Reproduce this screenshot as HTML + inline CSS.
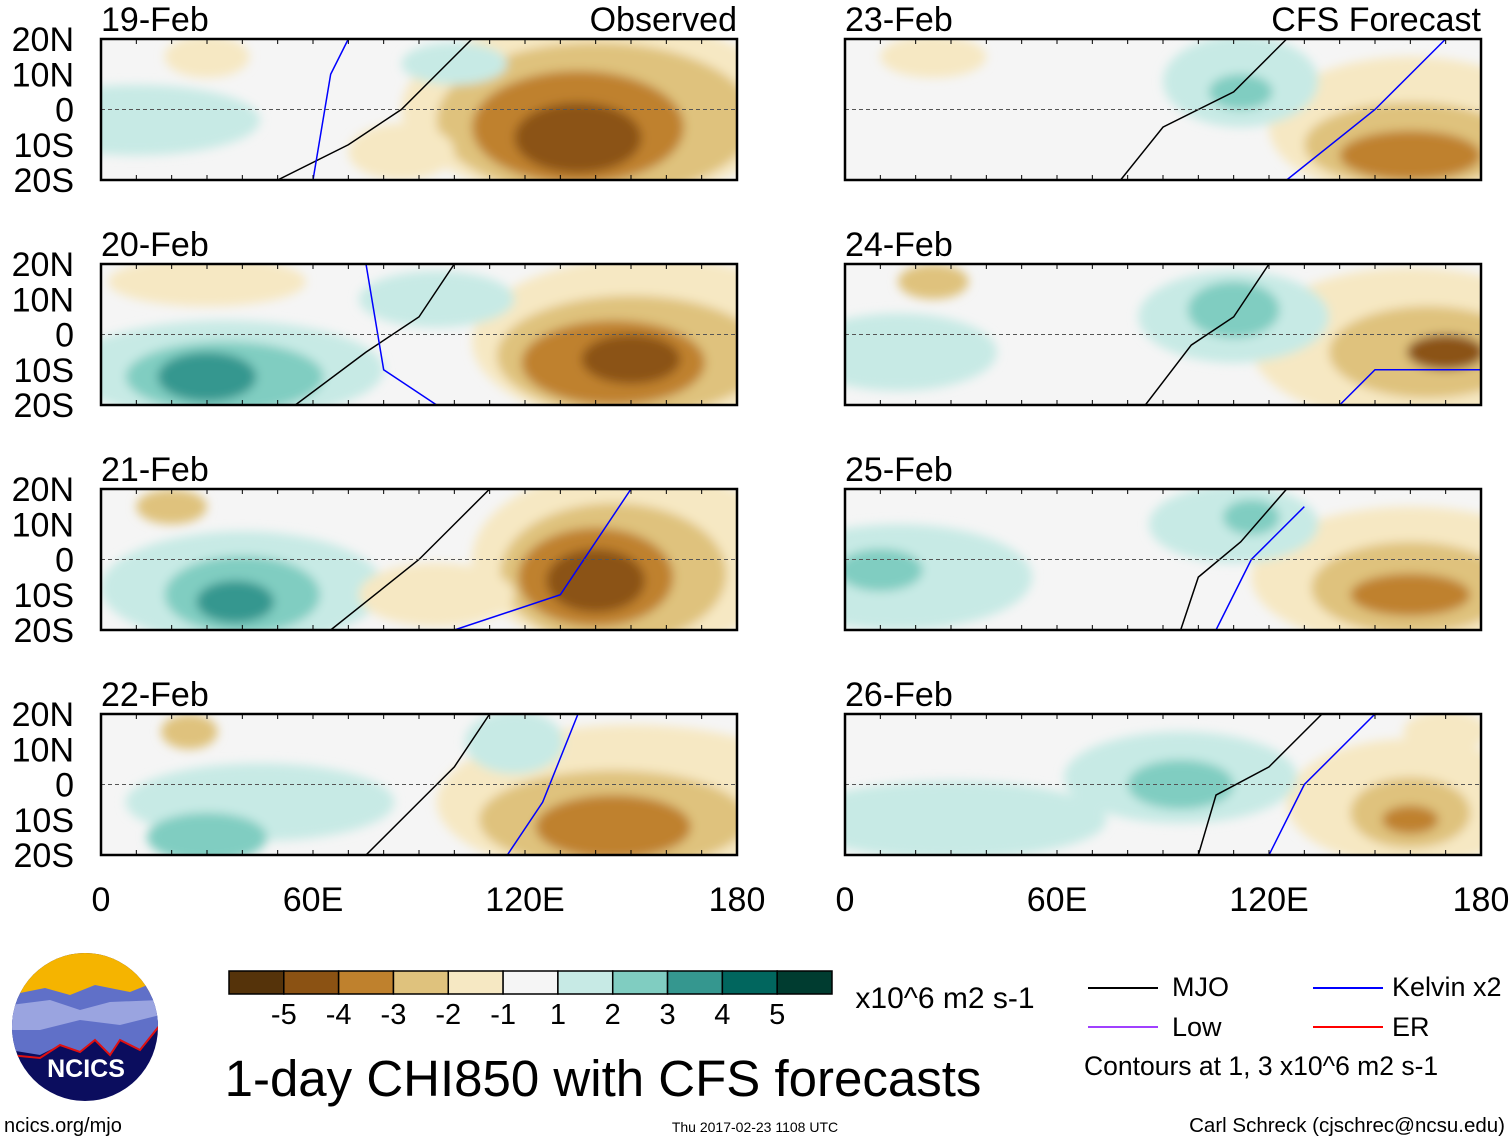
<!DOCTYPE html>
<html><head><meta charset="utf-8">
<style>
body{margin:0;background:#fff;}
svg{display:block;font-family:"Liberation Sans",Arial,sans-serif;}
</style></head>
<body>
<svg id="fig" width="1510" height="1142" viewBox="0 0 1510 1142" xmlns="http://www.w3.org/2000/svg">
<defs>
<filter id="blur" x="-20%" y="-20%" width="140%" height="140%"><feGaussianBlur stdDeviation="5"/></filter>
<clipPath id="sunclip"><ellipse cx="85" cy="1027" rx="73" ry="74"/></clipPath>
</defs>
<g id="panels"></g>
<g id="cbar"></g>
<g clip-path="url(#sunclip)">
<rect x="10" y="950" width="150" height="160" fill="#0b0d5e"/>
<rect x="10" y="950" width="150" height="45" fill="#f5b400"/>
<path d="M10 995 L45 988 L70 995 L95 985 L130 992 L160 980 L160 1025 L140 1050 L120 1040 L110 1055 L95 1040 L80 1052 L60 1045 L40 1055 L10 1050Z" fill="#6070c8"/>
<path d="M10 1005 L50 1000 L80 1010 L110 1002 L160 1000 L160 1015 L120 1025 L80 1020 L40 1030 L10 1030Z" fill="#9aa4e0"/>
<path d="M10 1055 L40 1058 L60 1045 L80 1052 L95 1040 L110 1055 L120 1040 L140 1050 L160 1025" fill="none" stroke="#e01010" stroke-width="2"/>
</g>
<text x="86" y="1077" font-size="25" font-weight="bold" fill="#fff" text-anchor="middle">NCICS</text>
<text x="4" y="1132" font-size="20" fill="#000">ncics.org/mjo</text>
<text x="603" y="1096" font-size="51" fill="#000" text-anchor="middle">1-day CHI850 with CFS forecasts</text>
<text x="755" y="1132" font-size="14" fill="#000" text-anchor="middle">Thu 2017-02-23 1108 UTC</text>
<text x="945" y="1008" font-size="30" fill="#000" text-anchor="middle">x10^6 m2 s-1</text>
<g>
<line x1="1088" y1="988" x2="1158" y2="988" stroke="#000" stroke-width="2"/>
<text x="1172" y="996" font-size="27">MJO</text>
<line x1="1313" y1="988" x2="1383" y2="988" stroke="#0000ff" stroke-width="2"/>
<text x="1392" y="996" font-size="27">Kelvin x2</text>
<line x1="1088" y1="1027" x2="1158" y2="1027" stroke="#a040ff" stroke-width="2"/>
<text x="1172" y="1036" font-size="27">Low</text>
<line x1="1313" y1="1027" x2="1383" y2="1027" stroke="#ff0000" stroke-width="2"/>
<text x="1392" y="1036" font-size="27">ER</text>
<text x="1084" y="1075" font-size="26.5">Contours at 1, 3 x10^6 m2 s-1</text>
</g>
<text x="1505" y="1132" font-size="20.5" text-anchor="end">Carl Schreck (cjschrec@ncsu.edu)</text>
</svg>
<script>
const cbarColors=["#55330a","#8b5213","#bf812d","#dfc27d","#f6e8c3","#f5f5f5","#c7eae5","#80cdc1","#35978f","#01665e","#003c30"];
const cbarLabels=["-5","-4","-3","-2","-1","1","2","3","4","5"];
const panelDates=["19-Feb","20-Feb","21-Feb","22-Feb","23-Feb","24-Feb","25-Feb","26-Feb"];
const latTicks=[20,10,0,-10,-20];
const latLabels=["20N","10N","0","10S","20S"];
const lonTicks=[0,60,120,180];
const lonLabels=["0","60E","120E","180"];
// anomaly blobs per panel: [lon, lat, halfwidth lon, halfheight lat, colour index]
const blobs=[
 [[140,0,55,26,4],[140,-3,45,22,3],[135,-5,30,16,2],[135,-8,18,10,1],[10,-3,35,10,6],[100,13,15,6,6],[30,15,12,6,4],[85,-12,15,8,4]],
 [[155,-2,50,24,4],[150,-6,38,17,3],[145,-8,26,12,2],[150,-7,14,7,1],[35,-10,45,14,6],[35,-12,28,10,7],[30,-12,14,7,8],[30,15,28,7,4],[95,10,22,8,6]],
 [[150,0,45,26,4],[145,-4,32,20,3],[140,-5,22,14,2],[140,-6,14,9,1],[40,-8,40,16,6],[40,-10,22,11,7],[38,-12,11,6,8],[20,15,10,5,3],[95,-10,22,9,4]],
 [[150,-5,55,22,4],[145,-10,38,14,3],[145,-12,22,9,2],[45,-5,38,11,6],[30,-15,17,7,7],[117,12,14,9,6],[25,15,8,5,3]],
 [[160,-5,40,20,4],[160,-10,30,12,3],[160,-13,20,7,2],[112,8,22,13,6],[112,5,9,5,7],[25,15,15,6,4]],
 [[160,-3,45,22,4],[165,-5,28,13,3],[170,-5,11,5,1],[110,5,27,13,6],[110,7,13,8,7],[15,-5,28,11,6],[25,15,10,5,3]],
 [[160,-5,45,20,4],[160,-8,28,13,3],[160,-10,17,6,2],[15,-5,38,15,6],[10,-3,12,6,7],[110,10,24,11,6],[115,12,8,5,7]],
 [[160,-5,35,18,4],[160,-8,17,10,3],[160,-10,8,4,2],[95,2,33,13,6],[95,0,15,7,7],[30,-10,44,11,6],[170,15,12,6,4]]
];
// MJO (black) and Kelvin (blue) contour polylines: [lon,lat] pairs
const mjoLines=[
 [[50,-20],[70,-10],[85,0],[95,10],[105,20]],
 [[55,-20],[75,-5],[90,5],[100,20]],
 [[65,-20],[80,-8],[90,0],[100,10],[110,20]],
 [[75,-20],[90,-5],[100,5],[110,20]],
 [[78,-20],[90,-5],[110,5],[125,20]],
 [[85,-20],[98,-3],[110,5],[120,20]],
 [[95,-20],[100,-5],[112,5],[125,20]],
 [[100,-20],[105,-3],[120,5],[135,20]]
];
const kelvinLines=[
 [[60,-20],[65,10],[70,20]],
 [[95,-20],[80,-10],[75,20]],
 [[100,-20],[130,-10],[150,20]],
 [[115,-20],[125,-5],[135,20]],
 [[125,-20],[150,0],[170,20]],
 [[140,-20],[150,-10],[180,-10]],
 [[105,-20],[115,0],[130,15]],
 [[120,-20],[130,0],[150,20]]
];
const NS="http://www.w3.org/2000/svg";
function mk(t,a,p){const e=document.createElementNS(NS,t);for(const k in a)e.setAttribute(k,a[k]);p.appendChild(e);return e;}
const panelsG=document.getElementById("panels");
const colX=[101,845], rowY=[39,264,489,714], PW=636, PH=141;
panelDates.forEach((d,i)=>{
  const col=Math.floor(i/4), row=i%4;
  const x0=colX[col], y0=rowY[row];
  const xs=lon=>x0+lon/180*PW, ys=lat=>y0+(20-lat)/40*PH;
  const g=mk("g",{},panelsG);
  
  
  const cp=mk("clipPath",{id:"cp"+i},g);
  mk("rect",{x:x0,y:y0,width:PW,height:PH},cp);
  mk("rect",{x:x0,y:y0,width:PW,height:PH,fill:"#f5f5f5"},g);
  const sg=mk("g",{"clip-path":"url(#cp"+i+")"},g);
  const fg=mk("g",{filter:"url(#blur)"},sg);
  blobs[i].forEach(b=>{
    const e=mk("ellipse",{cx:xs(b[0]),cy:ys(b[1]),rx:b[2]/180*PW,ry:b[3]/40*PH,fill:cbarColors[b[4]]},fg);
    
    
  });
  const mp=mk("polyline",{points:mjoLines[i].map(p=>xs(p[0])+","+ys(p[1])).join(" "),fill:"none",stroke:"#000","stroke-width":1.5},sg);
  
  
  const kp=mk("polyline",{points:kelvinLines[i].map(p=>xs(p[0])+","+ys(p[1])).join(" "),fill:"none",stroke:"#0000ff","stroke-width":1.5},sg);
  
  
  const eq=mk("line",{x1:x0,y1:ys(0),x2:x0+PW,y2:ys(0),stroke:"#555","stroke-dasharray":"4,3","stroke-width":1},g);
  
  
  mk("rect",{x:x0,y:y0,width:PW,height:PH,fill:"none",stroke:"#000","stroke-width":2.5},g);
  for(let l=0;l<=180;l+=10){
    mk("line",{x1:xs(l),y1:y0,x2:xs(l),y2:y0+5,stroke:"#000"},g);
    mk("line",{x1:xs(l),y1:y0+PH,x2:xs(l),y2:y0+PH-5,stroke:"#000"},g);
  }
  const t=mk("text",{x:x0,y:y0-8,"font-size":34},g);t.textContent=d;
  
  
  if(row===0){
    const lb=mk("text",{x:x0+PW,y:y0-8,"font-size":34,"text-anchor":"end"},g);
    lb.textContent=col===0?"Observed":"CFS Forecast";
    
    
  }
  if(col===0){
    latTicks.forEach((lt,k)=>{
      const tt=mk("text",{x:74,y:ys(lt)+12,"font-size":34,"text-anchor":"end"},g);
      tt.textContent=latLabels[k];
      
      
    });
  }
  if(row===3){
    lonTicks.forEach((ln,k)=>{
      const tt=mk("text",{x:xs(ln),y:911,"font-size":34,"text-anchor":"middle"},g);
      tt.textContent=lonLabels[k];
      
      
    });
  }
});
const cb=document.getElementById("cbar");
const cbx=229, cbw=603/cbarColors.length;
cbarColors.forEach((c,k)=>{
  const r=mk("rect",{x:cbx+k*cbw,y:971,width:cbw,height:23,fill:c,stroke:"#000","stroke-width":1.5},cb);
  
  
});
cbarLabels.forEach((l,k)=>{
  const t=mk("text",{x:cbx+(k+1)*cbw,y:1024,"font-size":29,"text-anchor":"middle"},cb);
  t.textContent=l;
  
  
});
</script>
</body></html>
